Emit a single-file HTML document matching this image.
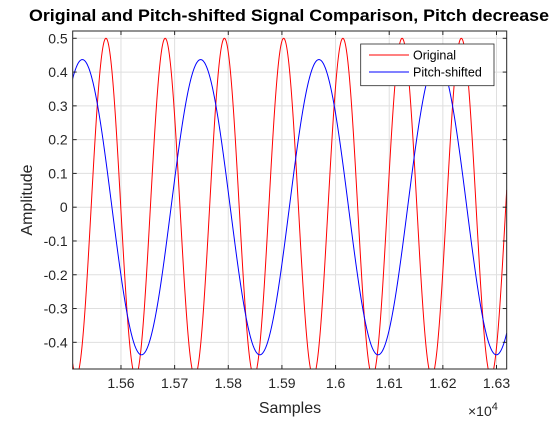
<!DOCTYPE html>
<html><head><meta charset="utf-8"><style>
body{margin:0;background:#fff;}
svg text{font-family:"Liberation Sans",Arial,sans-serif;}
</style></head><body>
<svg id="chart" width="560" height="420" viewBox="0 0 560 420">
<rect width="560" height="420" fill="#fff"/>
<g id="grid"></g>
<g id="series"></g>
<rect x="72.7" y="31" width="434" height="338" fill="none" stroke="#262626" stroke-width="1"/>
<g id="ticks"></g>
<text x="289" y="21" text-anchor="middle" font-size="16.5" font-weight="bold" fill="#000" textLength="520" lengthAdjust="spacingAndGlyphs">Original and Pitch-shifted Signal Comparison, Pitch decrease</text>
<text x="290" y="413" text-anchor="middle" font-size="16" fill="#262626">Samples</text>
<text transform="translate(32,200) rotate(-90)" text-anchor="middle" font-size="16" fill="#262626">Amplitude</text>
<text x="468" y="416" font-size="14" fill="#262626">×10<tspan dy="-6" font-size="11">4</tspan></text>
<g>
<rect x="360.7" y="44" width="133.3" height="41.7" fill="#fff" stroke="#262626" stroke-width="0.8"/>
<line x1="369" y1="55" x2="409" y2="55" stroke="#f00"/>
<text x="413" y="59.5" font-size="12.5" fill="#000">Original</text>
<line x1="369" y1="72" x2="409" y2="72" stroke="#00f"/>
<text x="413" y="76.5" font-size="12.5" fill="#000">Pitch-shifted</text>
</g>
</svg>
<script>
const xTicks=[15600,15700,15800,15900,16000,16100,16200,16300];
const xTickLabels=["1.56","1.57","1.58","1.59","1.6","1.61","1.62","1.63"];
const yTicks=[-0.4,-0.3,-0.2,-0.1,0,0.1,0.2,0.3,0.4,0.5];
const yTickLabels=["-0.4","-0.3","-0.2","-0.1","0","0.1","0.2","0.3","0.4","0.5"];
const seriesNames=["original","pitch-shifted"];
const seriesColors=["#f00","#00f"];
const seriesAmplitude=[0.5,0.437];
const seriesPeriod=[110.4,220.5];
const seriesPeakSample=[15572,15528];
const xMin=15510,xMax=16319,yMin=-0.479,yMax=0.5216;
const L=72.7,R=506.7,T=31,B=369;
const NS="http://www.w3.org/2000/svg";
function sx(v){return L+(v-xMin)/(xMax-xMin)*(R-L);}
function sy(v){return B-(v-yMin)/(yMax-yMin)*(B-T);}
const grid=document.getElementById('grid'),ticks=document.getElementById('ticks'),ser=document.getElementById('series');
function mk(tag,attrs,parent){const e=document.createElementNS(NS,tag);for(const k in attrs)e.setAttribute(k,attrs[k]);parent.appendChild(e);return e;}
xTicks.forEach((t,i)=>{const x=sx(t);
 const g=mk('line',{x1:x,x2:x,y1:T,y2:B,stroke:'#dfdfdf','stroke-width':1},grid);
 
 
 const tk=mk('line',{x1:x,x2:x,y1:B,y2:B-4,stroke:'#262626'},ticks);
 
 
 const tk2=mk('line',{x1:x,x2:x,y1:T,y2:T+4,stroke:'#262626'},ticks);
 
 
 const tx=mk('text',{x:x,y:B+19,'text-anchor':'middle','font-size':14,fill:'#262626'},ticks);
 tx.textContent=xTickLabels[i];
 
 
});
yTicks.forEach((t,i)=>{const y=sy(t);
 const g=mk('line',{x1:L,x2:R,y1:y,y2:y,stroke:'#dfdfdf','stroke-width':1},grid);
 
 
 const tk=mk('line',{x1:L,x2:L+4,y1:y,y2:y,stroke:'#262626'},ticks);
 
 
 const tk2=mk('line',{x1:R,x2:R-4,y1:y,y2:y,stroke:'#262626'},ticks);
 
 
 const tx=mk('text',{x:L-5,y:y+5,'text-anchor':'end','font-size':14,fill:'#262626'},ticks);
 tx.textContent=yTickLabels[i];
 
 
});
mk('clipPath',{id:'clip'},document.getElementById('chart'));
mk('rect',{x:L,y:T,width:R-L,height:B-T},document.getElementById('clip'));
seriesNames.forEach((n,i)=>{let d='';
 for(let s=xMin;s<=xMax;s+=1){const v=seriesAmplitude[i]*Math.cos(2*Math.PI*(s-seriesPeakSample[i])/seriesPeriod[i]);
  d+=(d?'L':'M')+sx(s).toFixed(2)+','+sy(v).toFixed(2);}
 const p=mk('path',{d:d,fill:'none',stroke:seriesColors[i],'stroke-width':1,'clip-path':'url(#clip)'},ser);
 
 
});
</script>
</body></html>
